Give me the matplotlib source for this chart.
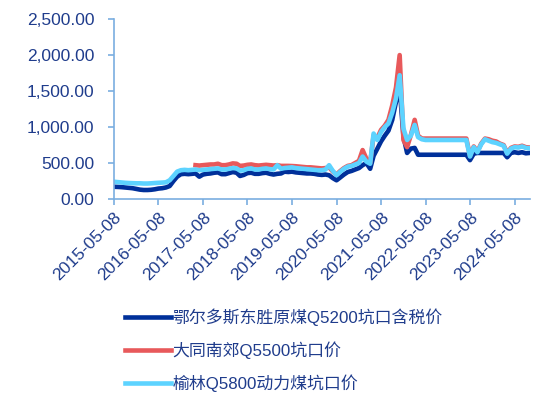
import numpy as np
import pandas as pd
import matplotlib
matplotlib.use('Agg')
import matplotlib.pyplot as plt
import matplotlib.dates as mdates
from matplotlib.ticker import FuncFormatter

plt.rcParams['font.family'] = ['Liberation Sans', 'Noto Sans CJK SC', 'DejaVu Sans']

# monthly samples on the 8th, 2015-05 .. 2024-09
dates = pd.date_range('2015-05-01', periods=113, freq='MS') + pd.Timedelta(days=7)

# 鄂尔多斯东胜原煤Q5200坑口含税价
ordos = [170, 168, 165, 160, 155, 150, 140, 130,                       # 2015
         125, 125, 128, 135, 145, 150, 160, 180, 250, 310, 345, 350,   # 2016
         345, 350, 355, 310, 340, 350, 355, 365, 370, 345, 345, 360,   # 2017
         375, 365, 320, 335, 360, 365, 350, 350, 360, 365, 350, 340,   # 2018
         350, 355, 380, 375, 380, 370, 365, 360, 355, 355, 350, 340,   # 2019
         335, 340, 330, 290, 260, 300, 340, 375, 390, 410, 430, 470,   # 2020
         500, 420, 600, 700, 800, 880, 950, 1100, 1350, 1550, 870, 640,  # 2021
         700, 710, 615, 615, 615, 615, 615, 615, 615, 615, 615, 615,   # 2022
         615, 615, 615, 615, 540, 630, 640, 640, 640, 640, 640, 640,   # 2023
         640, 640, 580, 640, 650, 640, 650, 635, 640]                  # 2024

# 大同南郊Q5500坑口价 (starts 2017-03)
datong = [np.nan] * 22 + [
         470, 465, 470, 475, 480, 480, 490, 470, 470, 480,             # 2017
         495, 490, 460, 465, 475, 480, 470, 465, 470, 475, 470, 465,   # 2018
         470, 460, 460, 460, 458, 455, 450, 445, 440, 440, 435, 430,   # 2019
         425, 430, 440, 380, 340, 390, 430, 460, 470, 500, 530, 680,   # 2020
         560, 500, 880, 850, 960, 1020, 1100, 1300, 1550, 2000, 820, 720,  # 2021
         890, 1100, 880, 840, 840, 840, 840, 840, 840, 840, 840, 840,  # 2022
         840, 840, 840, 840, 600, 730, 660, 770, 840, 830, 810, 800,   # 2023
         770, 750, 640, 710, 730, 725, 740, 720, 715]                  # 2024

# 榆林Q5800动力煤坑口价
yulin = [240, 235, 230, 225, 222, 220, 218, 218,                       # 2015
         215, 215, 218, 222, 225, 228, 232, 260, 320, 380, 400, 405,   # 2016
         400, 405, 410, 400, 405, 410, 415, 420, 425, 410, 410, 420,   # 2017
         430, 425, 395, 400, 420, 425, 410, 410, 420, 425, 415, 410,   # 2018
         470, 420, 430, 435, 440, 430, 425, 420, 415, 410, 405, 400,   # 2019
         400, 410, 470, 390, 330, 380, 420, 450, 460, 480, 500, 590,   # 2020
         520, 490, 910, 820, 930, 1000, 1050, 1200, 1400, 1720, 980, 820,  # 2021
         880, 1030, 860, 830, 820, 820, 820, 820, 820, 820, 820, 820,  # 2022
         820, 820, 820, 820, 590, 720, 650, 760, 830, 810, 790, 780,   # 2023
         760, 740, 630, 700, 720, 715, 730, 710, 705]                  # 2024

labels = ['鄂尔多斯东胜原煤Q5200坑口含税价', '大同南郊Q5500坑口价', '榆林Q5800动力煤坑口价']
colors = ['#00309A', '#E8595B', '#5DD3FF']
tick_dates = pd.date_range('2015-05-01', periods=10, freq='12MS') + pd.Timedelta(days=7)

txt = '#1F3C8C'
spine = '#7AAEE0'

fig = plt.figure(figsize=(5.5, 3.98), dpi=100)
ax = fig.add_axes([0.207, 0.5, 0.757, 0.452])

for vals, c, lab in zip([ordos, datong, yulin], colors, labels):
    ax.plot(dates, vals, color=c, lw=3.3, label=lab, solid_joinstyle='round')

ax.set_ylim(0, 2500)
ax.set_yticks(np.arange(0, 2501, 500))
ax.yaxis.set_major_formatter(FuncFormatter(lambda v, p: f'{v:,.2f}'))
ax.set_xlim(dates[0], pd.Timestamp('2024-09-13'))
ax.set_xticks(tick_dates)
ax.xaxis.set_major_formatter(mdates.DateFormatter('%Y-%m-%d'))

for s in ['top', 'right']:
    ax.spines[s].set_visible(False)
for s in ['left', 'bottom']:
    ax.spines[s].set_color(spine)
    ax.spines[s].set_linewidth(1.2)
ax.tick_params(axis='both', colors=spine, labelcolor=txt, labelsize=12.5, length=4, width=1.2)
ax.tick_params(axis='y', pad=10)
plt.setp(ax.get_xticklabels(), rotation=45, ha='right', rotation_mode='anchor')

fig.legend(loc='upper left', bbox_to_anchor=(0.215, 0.242), frameon=False,
           fontsize=12.2, handlelength=2.7, labelspacing=0.9, handletextpad=0.1,
           labelcolor=txt, borderaxespad=0)

fig.savefig('out.png', dpi=100)
